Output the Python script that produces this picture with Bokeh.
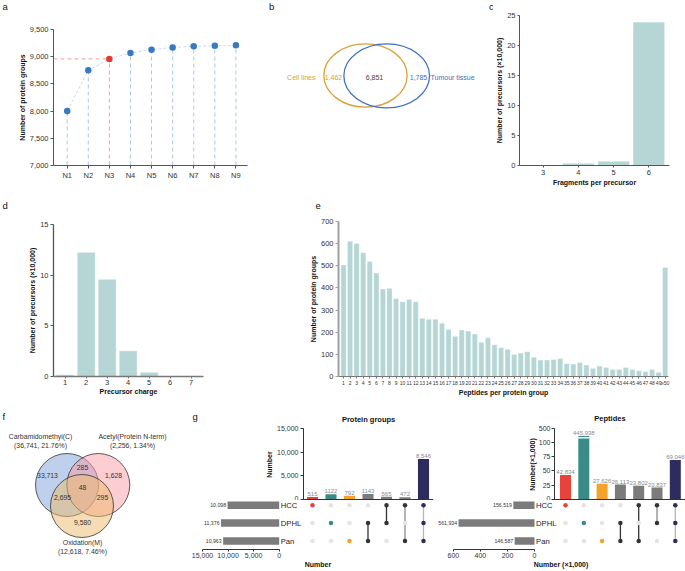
from bokeh.plotting import figure
from bokeh.layouts import row, column
from bokeh.models import (Range1d, FixedTicker, NumeralTickFormatter, LabelSet,
                          ColumnDataSource, LinearAxis, Span)
from bokeh.embed import file_html
from bokeh.resources import INLINE
from bokeh.core.properties import value

FONT = "Liberation Sans"

# ---------------- data ----------------
# a
a_labels = ["N1", "N2", "N3", "N4", "N5", "N6", "N7", "N8", "N9"]
a_values = [8000, 8750, 8960, 9070, 9130, 9170, 9190, 9200, 9210]
a_highlight = "N3"
a_yticks = [7000, 7500, 8000, 8500, 9000, 9500]
# b
b_names = ["Cell lines", "Tumour tissue"]
b_unique = [1462, 1785]
b_shared = 6851
# c
c_fragments = [3, 4, 5, 6]
c_counts = [0.05, 0.39, 0.72, 23.9]
c_yticks = [0, 5, 10, 15, 20, 25]
# d
d_charge = [1, 2, 3, 4, 5, 6, 7]
d_counts = [0.17, 12.25, 9.6, 2.54, 0.43, 0.02, 0.005]
d_yticks = [0, 5, 10, 15]
# e
e_labels = [str(i) for i in range(1, 50)] + ["≥50"]
e_counts = [504, 611, 601, 559, 519, 467, 395, 398, 352, 338,
            348, 338, 263, 259, 259, 241, 212, 182, 210, 206,
            192, 155, 175, 143, 130, 123, 99, 106, 112, 87,
            74, 75, 77, 81, 58, 56, 63, 52, 37, 47,
            41, 32, 32, 41, 32, 26, 23, 32, 19, 492]
e_yticks = [0, 100, 200, 300, 400, 500, 600, 700]
# f
f_names = ["Carbamidomethyl(C)", "Acetyl(Protein N-term)", "Oxidation(M)"]
f_totals = ["(36,741, 21.76%)", "(2,256, 1.34%)", "(12,618, 7.46%)"]
f_regions = ["C", "A", "CA", "CAO", "CO", "AO", "O"]
f_region_counts = [33713, 1628, 285, 48, 2695, 295, 9580]
# g
g_sets = ["HCC", "DPHL", "Pan"]
g_prot_members = [["HCC"], ["DPHL"], ["Pan"], ["DPHL", "Pan"], ["HCC", "DPHL"],
                  ["HCC", "Pan"], ["HCC", "DPHL", "Pan"]]
g_prot_counts = [515, 1122, 792, 1143, 565, 472, 8546]
g_prot_count_labels = ["515", "1122", "792", "1143", "565", "472", "8,546"]
g_prot_set_sizes = [10098, 11376, 10963]
g_prot_set_labels = ["10,098", "11,376", "10,963"]
g_prot_yticks = [0, 5000, 10000, 15000]
g_prot_xticks = [0, 5000, 10000, 15000]
g_pep_members = [["HCC"], ["DPHL"], ["Pan"], ["DPHL", "Pan"], ["HCC", "Pan"],
                 ["HCC", "DPHL"], ["HCC", "DPHL", "Pan"]]
g_pep_counts = [42.834, 445.938, 27.626, 26.113, 23.802, 20.837, 69.046]
g_pep_count_labels = ["42,834", "445,938", "27,626", "26,113", "23,802", "20,837", "69,046"]
g_pep_set_sizes = [156.519, 561.934, 146.587]
g_pep_set_labels = ["156,519", "561,934", "146,587"]
g_pep_yticks = [0, 25, 50, 75, 100, 500]
g_pep_xticks = [0, 200, 400, 600]
g_bar_colors = ["#e8433a", "#3a8b88", "#f5a229", "#7b7b7b", "#7b7b7b", "#7b7b7b", "#2e2c5c"]
g_dot_colors = ["#e8433a", "#3a8b88", "#f5a229", "#333333", "#333333", "#333333", "#2e2c5c"]
g_line_colors = [None, None, None, "#333333", "#333333", "#8a8a8a", "#b4b2d4"]

BAR = "#b5d6d5"


# ---------------- helpers ----------------
def base_fig(w, h, xr, yr, left, right, top, bottom, xaxis=True, yaxis=True, **kw):
    p = figure(width=w, height=h, x_range=xr, y_range=yr, output_backend="svg",
               toolbar_location=None, min_border_left=left, min_border_right=right,
               min_border_top=top, min_border_bottom=bottom,
               x_axis_type="linear" if xaxis else None,
               y_axis_type="linear" if yaxis else None, **kw)
    p.grid.visible = False
    p.outline_line_color = None
    p.frame_align = False
    return p


def plain_fig(w, h):
    p = figure(width=w, height=h, x_range=Range1d(0, w), y_range=Range1d(0, h),
               x_axis_type=None, y_axis_type=None, min_border=0,
               output_backend="svg", toolbar_location=None)
    p.outline_line_color = None
    p.frame_align = False
    return p


def style_axis(ax, label=None, tick_size="7.5px", label_size="7px", color="#555555",
               width=1.0, tick_out=3, label_standoff=2, title_standoff=1):
    if label is not None:
        ax.axis_label = label
    ax.axis_label_text_font = FONT
    ax.axis_label_text_font_style = "bold"
    ax.axis_label_text_font_size = label_size
    ax.axis_label_text_color = "#111111"
    ax.axis_label_standoff = title_standoff
    ax.major_label_text_font = FONT
    ax.major_label_text_font_size = tick_size
    ax.major_label_text_color = "#333333"
    ax.major_label_standoff = label_standoff
    ax.major_tick_out = tick_out
    ax.major_tick_in = 0
    ax.minor_tick_out = 0
    ax.minor_tick_in = 0
    ax.axis_line_color = color
    ax.axis_line_width = width
    ax.major_tick_line_color = color


def txt(p, x, y, t, size="7px", color="#333333", align="center", baseline="middle",
        bold=False, **kw):
    p.text(x=x, y=y, text=t, text_align=align, text_baseline=baseline,
           text_font=value(FONT), text_font_size=size, text_color=color,
           text_font_style="bold" if bold else "normal", **kw)


def letter(p, x, y, t):
    txt(p, [x], [y], [t], size="9.5px", color="#111111", align="left")


def frame_px(p, xdata):
    """pixel position (from the figure's left edge) of a data x inside a figure frame"""
    fw = p.width - p.min_border_left - p.min_border_right
    xr = p.x_range
    return p.min_border_left + (xdata - xr.start) * fw / (xr.end - xr.start)


# ---------------- panel a ----------------
a_x = list(range(1, len(a_labels) + 1))
hi = a_labels.index(a_highlight)
sa = plain_fig(257, 14)
letter(sa, 2, 8.5, "a")
pa = base_fig(257, 184, Range1d(0.35, 9.55), Range1d(a_yticks[0], a_yticks[-1]), 53, 10, 15, 33)
vcol = ["#f2a29b" if i == hi else "#a9c8ea" for i in range(len(a_x))]
pa.segment(x0=a_x, y0=[a_yticks[0]] * len(a_x), x1=a_x, y1=a_values,
           line_color=vcol, line_dash="4 3", line_width=1)
pa.segment(x0=[pa.x_range.start], y0=[a_values[hi]], x1=[a_x[hi]], y1=[a_values[hi]],
           line_color="#f2a29b", line_dash="4 3", line_width=1)
pa.line(a_x, a_values, line_color="#c9dcf1", line_width=1, line_dash="3 2")
pa.scatter(a_x, a_values, size=6.5, line_color=None,
           fill_color=["#e53935" if i == hi else "#3b78c4" for i in range(len(a_x))])
ax = pa.xaxis[0]
ax.ticker = FixedTicker(ticks=a_x)
ax.major_label_overrides = {x: l for x, l in zip(a_x, a_labels)}
style_axis(ax, None, "7.5px")
ay = pa.yaxis[0]
ay.ticker = FixedTicker(ticks=a_yticks)
ay.formatter = NumeralTickFormatter(format="0,0")
style_axis(ay, "Number of protein groups", "7.5px")

# ---------------- panel b (also holds the "c" letter) ----------------
GOLD, BLUE = "#d6a23c", "#3d72c2"
pb = plain_fig(236, 198)
pb.ellipse(x=[108, 129.2], y=[123, 122.7], width=[83.3, 85.7], height=[63.3, 64],
           fill_color=None, line_color=[GOLD, BLUE], line_width=1.3)
txt(pb, [58], [121.3], [b_names[0]], color=GOLD, align="right")
txt(pb, [76], [121.3], [f"{b_unique[0]:,}"], color=GOLD)
txt(pb, [117], [121.3], [f"{b_shared:,}"], color="#444444")
txt(pb, [161], [121.3], [f"{b_unique[1]:,}"], color=BLUE)
txt(pb, [173], [121.3], [b_names[1]], color=BLUE, align="left")
letter(pb, 11.5, 192.5, "b")
letter(pb, 231.5, 192.5, "c")

# ---------------- panel c ----------------
pc = base_fig(192, 198, Range1d(2.328, 6.586), Range1d(c_yticks[0], c_yticks[-1]), 24, 16, 15, 33)
pc.vbar(x=c_fragments, top=c_counts, width=0.9, fill_color=BAR, line_color="white", line_width=0.5)
ax = pc.xaxis[0]
ax.ticker = FixedTicker(ticks=c_fragments)
style_axis(ax, "Fragments per precursor", "7.5px", tick_out=2, title_standoff=1)
ay = pc.yaxis[0]
ay.ticker = FixedTicker(ticks=c_yticks)
style_axis(ay, "Number of precursors (×10,000)", "7.5px", tick_out=2, label_standoff=2, title_standoff=1)

# ---------------- row 2 strip with letters d, e ----------------
s2 = plain_fig(685, 16)
letter(s2, 2, 9, "d")
letter(s2, 315, 9, "e")

# ---------------- panel d ----------------
pd_ = base_fig(300, 184, Range1d(0.443, 7.586), Range1d(d_yticks[0], d_yticks[-1]), 53, 97, 10, 22)
pd_.vbar(x=d_charge, top=d_counts, width=0.86, fill_color=BAR, line_color="white", line_width=0.5)
ax = pd_.xaxis[0]
ax.ticker = FixedTicker(ticks=d_charge)
style_axis(ax, "Precursor charge", "7.5px", tick_out=2, label_standoff=1, title_standoff=0,
           width=1.3, color="#777777")
ay = pd_.yaxis[0]
ay.ticker = FixedTicker(ticks=d_yticks)
style_axis(ay, "Number of precursors (×10,000)", "7.5px", width=1.3, color="#555555")

# ---------------- panel e ----------------
e_x = list(range(1, len(e_labels) + 1))
pe = base_fig(385, 184, Range1d(0.238, 50.5), Range1d(e_yticks[0], e_yticks[-1]), 38, 17, 7, 20)
pe.vbar(x=e_x, top=e_counts, width=0.8, fill_color=BAR, line_color="white", line_width=0.4)
ax = pe.xaxis[0]
ax.ticker = FixedTicker(ticks=e_x)
ax.major_label_overrides = {x: l for x, l in zip(e_x, e_labels)}
style_axis(ax, "Peptides per protein group", "5px", tick_out=2, label_standoff=1,
           title_standoff=0, color="#777777")
ay = pe.yaxis[0]
ay.ticker = FixedTicker(ticks=e_yticks)
style_axis(ay, "Number of protein groups", "7.5px", width=2, color="#a0a0a0")

# ---------------- panel f ----------------
pf = plain_fig(190, 172)
pf.circle(x=[66.5, 97.8, 81.5], y=[85.5, 85.5, 64.5], radius=31.5,
          fill_color=["#7da1d7", "#f99ba5", "#ebb969"], fill_alpha=0.5,
          line_color="#333333", line_width=0.8)
txt(pf, [40, 132], [134, 134], f_names[:2], size="6.9px")
txt(pf, [40, 132], [125.5, 125.5], f_totals[:2], size="6.9px")
txt(pf, [82], [28], [f_names[2]], size="6.9px")
txt(pf, [82], [19], [f_totals[2]], size="6.9px")
f_rx = [47, 113, 82, 82, 62, 102, 82]
f_ry = [95, 95, 103, 83, 73, 73, 48]
txt(pf, f_rx, f_ry, [f"{v:,}" for v in f_region_counts], size="6.8px")
letter(pf, 2, 154.3, "f")


# ---------------- panel g ----------------
def pep_disp(v):
    # broken axis: 0-100 linear, 400-500 compressed into the band above the break
    return v if v <= 100 else 100 + (v - 400) * 0.24


def upset_top(p, counts_disp, count_labels):
    cols = list(range(1, len(counts_disp) + 1))
    p.vbar(x=cols, top=counts_disp, width=0.6, fill_color=g_bar_colors, line_color=None)
    p.add_layout(Span(location=0, dimension="width", line_color="#333333", line_width=1))
    src = ColumnDataSource(dict(x=cols, y=counts_disp, t=count_labels))
    p.add_layout(LabelSet(x="x", y="y", text="t", source=src, y_offset=1,
                          text_align="center", text_baseline="bottom",
                          text_font=value(FONT), text_font_size="6px", text_color="#8a8a8a"))


def upset_bottom(p, members, set_sizes, set_labels, xticks, xlabel, fmt):
    rows = {s: len(g_sets) - 1 - i for i, s in enumerate(g_sets)}
    cols = list(range(1, len(members) + 1))
    ys = [rows[s] for s in g_sets]
    p.hbar(y=ys, left=0, right=set_sizes, height=0.42, fill_color="#7b7b7b",
           line_color=None, x_range_name="h")
    p.text(x=set_sizes, y=ys, text=set_labels, x_range_name="h", x_offset=-1.5,
           text_align="right", text_baseline="middle", text_font=value(FONT),
           text_font_size="5.2px", text_color="#333333")
    p.text(x=[0] * len(ys), y=ys, text=g_sets, x_range_name="h", x_offset=1.5,
           text_align="left", text_baseline="middle", text_font=value(FONT),
           text_font_size="7.7px", text_color="#222222")
    x0, y0, y1, lc = [], [], [], []
    for c, m, col in zip(cols, members, g_line_colors):
        if len(m) > 1:
            yy = [rows[s] for s in m]
            x0.append(c); y0.append(min(yy)); y1.append(max(yy)); lc.append(col)
    p.segment(x0=x0, y0=y0, x1=x0, y1=y1, line_color=lc, line_width=1.3)
    dx, dy, dc = [], [], []
    for c, m, col in zip(cols, members, g_dot_colors):
        for s in g_sets:
            dx.append(c); dy.append(rows[s]); dc.append(col if s in m else "#e4e4e4")
    p.scatter(dx, dy, size=4.5, fill_color=dc, line_color=None)
    ax = LinearAxis(x_range_name="h", ticker=FixedTicker(ticks=xticks),
                    bounds=(xticks[0], xticks[-1]))
    if fmt:
        ax.formatter = NumeralTickFormatter(format=fmt)
    style_axis(ax, xlabel, "7px", tick_out=2, label_standoff=1, title_standoff=0, color="#333333")
    p.add_layout(ax, "below")


def bottom_fig(w, xr, hr, left, right):
    p = figure(width=w, height=70, x_range=xr, y_range=Range1d(-0.474, 2.263),
               x_axis_type=None, y_axis_type=None, min_border_left=left, min_border_right=right,
               min_border_top=0, min_border_bottom=18, output_backend="svg",
               toolbar_location=None, extra_x_ranges={"h": hr})
    p.outline_line_color = None
    p.frame_align = False
    return p


# protein groups
pg1t = base_fig(246, 76, Range1d(0.514, 7.54), Range1d(-211, g_prot_yticks[-1]), 113, 3, 4, 0, xaxis=False)
upset_top(pg1t, g_prot_counts, g_prot_count_labels)
ay = pg1t.yaxis[0]
ay.ticker = FixedTicker(ticks=g_prot_yticks)
ay.formatter = NumeralTickFormatter(format="0,0")
style_axis(ay, "Number", "7px", color="#333333")
sg1 = plain_fig(246, 26)
letter(sg1, 2, 8, "g")
txt(sg1, [frame_px(pg1t, 4.03)], [5.5], ["Protein groups"], size="7.5px", color="#111111", bold=True)

pg1b = bottom_fig(246, Range1d(-4.946, 7.541), Range1d(15000, -30178), 12, 3)
upset_bottom(pg1b, g_prot_members, g_prot_set_sizes, g_prot_set_labels, g_prot_xticks, "Number", "0,0")

# peptides
pep_disp_counts = [pep_disp(v) for v in g_pep_counts]
pg2t = base_fig(249, 76, Range1d(0.399, 7.557), Range1d(-1.75, pep_disp(g_pep_yticks[-1])), 118, 0, 4, 0, xaxis=False)
upset_top(pg2t, pep_disp_counts, g_pep_count_labels)
big = max(range(len(g_pep_counts)), key=lambda i: g_pep_counts[i])
pg2t.segment(x0=[big + 1 - 0.32], x1=[big + 1 + 0.32], y0=[108], y1=[108],
             line_color="white", line_width=1.5)
ay = pg2t.yaxis[0]
disp_ticks = [pep_disp(v) for v in g_pep_yticks]
ay.ticker = FixedTicker(ticks=disp_ticks)
ay.major_label_overrides = {d: str(v) for d, v in zip(disp_ticks, g_pep_yticks)}
style_axis(ay, "Number(×1,000)", "7px", color="#333333", label_standoff=1, title_standoff=0)
sg2 = plain_fig(249, 26)
txt(sg2, [frame_px(pg2t, 3.43)], [6], ["Peptides"], size="7.5px", color="#111111", bold=True)

pg2b = bottom_fig(249, Range1d(-6.049, 7.557), Range1d(724.9, -1116.8), 0, 0)
upset_bottom(pg2b, g_pep_members, g_pep_set_sizes, g_pep_set_labels, g_pep_xticks, "Number (×1,000)", None)

# ---------------- layout ----------------
layout = column(
    row(column(sa, pa), pb, pc),
    column(s2, row(pd_, pe)),
    row(pf, column(sg1, pg1t, pg1b), column(sg2, pg2t, pg2b)),
)

open("out.html", "w").write(file_html(layout, INLINE))
